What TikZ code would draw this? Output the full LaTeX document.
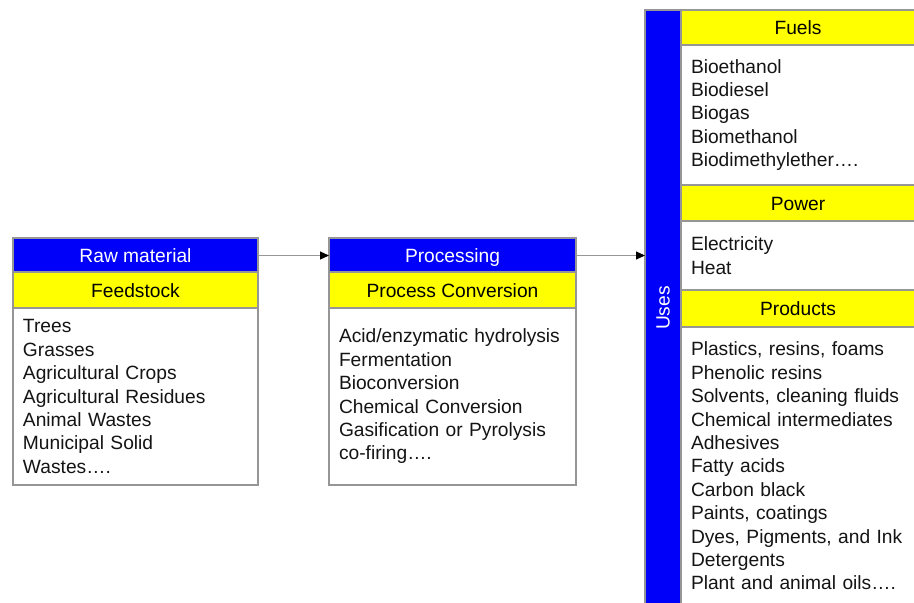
\documentclass[tikz,border=0pt]{standalone}
\usepackage{fontspec}
\setmainfont{Liberation Sans}
\usetikzlibrary{arrows.meta}
\definecolor{hdrblue}{RGB}{0,0,250}
\definecolor{hdryellow}{RGB}{255,255,0}
\definecolor{frame}{RGB}{150,150,150}
\begin{document}
\begin{tikzpicture}[x=1pt,y=-1pt,
  every node/.style={font=\fontsize{19.2}{23.4}\selectfont, inner sep=0pt, outer sep=0pt},
  boxbase/.style={rectangle, draw=frame, line width=1.2pt, anchor=north west},
  headtext/.style={text height=14pt, text depth=0pt},
  bluehead/.style={boxbase, headtext, fill=hdrblue, text=white},
  yellowhead/.style={boxbase, headtext, fill=hdryellow, text=black},
  bodybox/.style={boxbase, fill=white, align=left, text=black!92, inner xsep=10pt},
  flow/.style={draw=frame, line width=1.2pt, -{Triangle[length=9pt,width=8pt,black]}}
]
\useasboundingbox (0,0) rectangle (914,603);
\clip (0,0) rectangle (914,603);

% Feedstock column
\node[bluehead, minimum width=245pt, minimum height=34pt] (rawhead) at (13,238) {Raw material};
\node[yellowhead, minimum width=245pt, minimum height=36pt] (feed) at (13,272) {Feedstock};
\node[bodybox, minimum width=245pt, minimum height=177pt, text width=225pt] (rawbody) at (13,308)
  {Trees\\Grasses\\Agricultural Crops\\Agricultural Residues\\Animal Wastes\\Municipal Solid\\Wastes\dots.};

% Processing column
\node[bluehead, minimum width=247pt, minimum height=34pt] (prochead) at (329,238) {Processing};
\node[yellowhead, minimum width=247pt, minimum height=36pt] (conv) at (329,272) {Process Conversion};
\node[bodybox, minimum width=247pt, minimum height=177pt, text width=227pt] (procbody) at (329,308)
  {Acid/enzymatic hydrolysis\\Fermentation\\Bioconversion\\Chemical Conversion\\Gasification or Pyrolysis\\co-firing\dots.};

% Uses column
\node[bluehead, minimum width=36pt, minimum height=600pt] (uses) at (645,10) {};
\node[text=white, rotate=90] (useslabel) at (663,308) {Uses};

\node[yellowhead, minimum width=240pt, minimum height=35pt] (fuels) at (681,10) {\hspace*{-6pt}Fuels};
\node[bodybox, minimum width=240pt, minimum height=140pt, text width=220pt] (fuelbody) at (681,45)
  {Bioethanol\\Biodiesel\\Biogas\\Biomethanol\\Biodimethylether\dots.};
\node[yellowhead, minimum width=240pt, minimum height=36pt] (power) at (681,185) {\hspace*{-6pt}Power};
\node[bodybox, minimum width=240pt, minimum height=69pt, text width=220pt] (powbody) at (681,221)
  {Electricity\\Heat};
\node[yellowhead, minimum width=240pt, minimum height=37pt] (products) at (681,290) {\hspace*{-6pt}Products};
\node[bodybox, minimum width=240pt, minimum height=278pt, text width=220pt] (prodbody) at (681,327)
  {Plastics, resins, foams\\Phenolic resins\\Solvents, cleaning fluids\\Chemical intermediates\\Adhesives\\Fatty acids\\Carbon black\\Paints, coatings\\Dyes, Pigments, and Ink\\Detergents\\Plant and animal oils\dots.};

% Connectors
\draw[flow] ([yshift=-0.5pt]rawhead.east) -- ([yshift=-0.5pt]prochead.west);
\draw[flow] ([yshift=-0.5pt]prochead.east) -- ([yshift=-0.5pt]prochead.east -| uses.west);
\end{tikzpicture}
\end{document}
